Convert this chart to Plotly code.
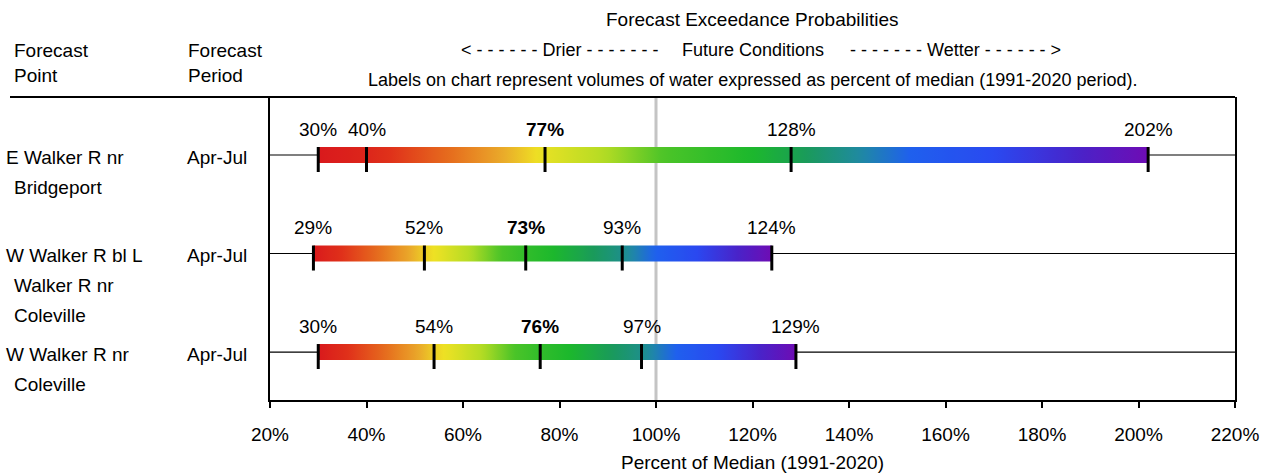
import plotly.graph_objects as go

# Forecast points (multi-line names) and periods
point_names = [
    ["E Walker R nr", "Bridgeport"],
    ["W Walker R bl L", "Walker R nr", "Coleville"],
    ["W Walker R nr", "Coleville"],
]
periods = ["Apr-Jul", "Apr-Jul", "Apr-Jul"]

# Percent of median at each exceedance probability
exc_90 = [30, 29, 30]
exc_70 = [40, 52, 54]
exc_50 = [77, 73, 76]
exc_30 = [128, 93, 97]
exc_10 = [202, 124, 129]

x_ticks = [20, 40, 60, 80, 100, 120, 140, 160, 180, 200, 220]

# ---- styling -------------------------------------------------------------
FONT = "Liberation Sans, Arial, sans-serif"
FS = 19
X_MIN, X_MAX = 20, 220
rows = [3, 2, 1]
Y_RANGE = [0.513, 3.589]
BAR_HALF = 0.081

# rainbow ramp used for the bars
RAMP = [
    (0.00, "#d9191c"), (0.08, "#e0321a"), (0.18, "#e6701e"), (0.26, "#eaa82a"),
    (0.32, "#eee224"), (0.39, "#b4dc24"), (0.45, "#4cc428"), (0.54, "#1cb82c"),
    (0.60, "#1a9a5c"), (0.66, "#1f8aa0"), (0.72, "#1f60ee"), (0.82, "#2a48f0"),
    (0.92, "#4a22c8"), (1.00, "#6e0cb4"),
]
# where each exceedance value sits on the ramp, per row
RAMP_POS = [
    [0.0, 0.04, 0.33, 0.58, 1.0],
    [0.0, 0.30, 0.50, 0.64, 1.0],
    [0.0, 0.30, 0.50, 0.64, 1.0],
]


def hex_to_rgb(h):
    h = h.lstrip("#")
    return tuple(int(h[i:i + 2], 16) for i in (0, 2, 4))


def ramp_color(t):
    t = min(max(t, 0.0), 1.0)
    for (t0, c0), (t1, c1) in zip(RAMP[:-1], RAMP[1:]):
        if t <= t1:
            f = 0 if t1 == t0 else (t - t0) / (t1 - t0)
            a, b = hex_to_rgb(c0), hex_to_rgb(c1)
            r, g, bl = (round(a[k] + (b[k] - a[k]) * f) for k in range(3))
            return f"rgb({r},{g},{bl})"
    return RAMP[-1][1]


def piecewise(v, xs, ts):
    for (x0, t0), (x1, t1) in zip(zip(xs[:-1], ts[:-1]), zip(xs[1:], ts[1:])):
        if v <= x1:
            return t0 + (t1 - t0) * (v - x0) / (x1 - x0)
    return ts[-1]


fig = go.Figure()
shapes = []
annotations = []

# 100% reference line
shapes.append(dict(type="line", xref="x", yref="paper", x0=100, x1=100, y0=0, y1=1,
                   line=dict(color="#c4c4c4", width=3), layer="below"))

for i, r in enumerate(rows):
    vals = [exc_90[i], exc_70[i], exc_50[i], exc_30[i], exc_10[i]]
    lo, hi = vals[0], vals[-1]

    # thin whisker across the whole axis
    fig.add_trace(go.Scatter(x=[X_MIN, X_MAX], y=[r, r], mode="lines",
                             line=dict(color="black", width=1.2),
                             hoverinfo="skip", showlegend=False))

    # gradient bar from the 90% to the 10% exceedance value
    n = 80
    cs = []
    for k in range(n + 1):
        f = k / n
        v = lo + (hi - lo) * f
        cs.append([f, ramp_color(piecewise(v, vals, RAMP_POS[i]))])
    fig.add_trace(go.Scatter(
        x=[lo, hi, hi, lo, lo],
        y=[r - BAR_HALF, r - BAR_HALF, r + BAR_HALF, r + BAR_HALF, r - BAR_HALF],
        mode="none", fill="toself",
        fillgradient=dict(type="horizontal", colorscale=cs),
        hoverinfo="skip", showlegend=False))

    for j, v in enumerate(vals):
        shapes.append(dict(type="line", xref="x", yref="y", ysizemode="pixel",
                           yanchor=r, x0=v, x1=v, y0=-17, y1=8,
                           line=dict(color="black", width=3)))
        annotations.append(dict(
            x=v, y=r, xref="x", yref="y", yshift=26, showarrow=False,
            text=f"<b>{v}%</b>" if j == 2 else f"{v}%",
            font=dict(family=FONT, size=FS, color="black")))

    # row labels on the left
    for k, line in enumerate(point_names[i]):
        annotations.append(dict(
            x=(4 - 270) / 965 if k == 0 else (12 - 270) / 965, xanchor="left",
            y=r, yref="y", xref="paper", yshift=-2 - 30 * k, showarrow=False,
            text=line, font=dict(family=FONT, size=FS, color="black")))
    annotations.append(dict(
        x=(185 - 270) / 965, xanchor="left", xref="paper", y=r, yref="y",
        yshift=-2, showarrow=False, text=periods[i],
        font=dict(family=FONT, size=FS, color="black")))


def px_x(px):
    return (px - 270) / 965


def px_y(py):
    return (400 - py) / 303


header = [
    ("Forecast", 12, 50, "left", FS), ("Point", 12, 76, "left", FS),
    ("Forecast", 186, 50, "left", FS), ("Period", 186, 76, "left", FS),
    ("Forecast Exceedance Probabilities", 752, 20, "center", FS),
    ("< - - - - - - Drier - - - - - - -", 559, 50, "center", 18),
    ("Future Conditions", 753, 50, "center", 18),
    ("- - - - - - - Wetter - - - - - - >", 955, 50, "center", 18),
    ("Labels on chart represent volumes of water expressed as percent of median (1991-2020 period).",
     752, 80, "center", 18),
]
for txt, hx, hy, anchor, size in header:
    annotations.append(dict(x=px_x(hx), y=px_y(hy), xref="paper", yref="paper",
                            xanchor=anchor, yanchor="middle", showarrow=False,
                            text=txt.replace("<", "&lt;").replace(">", "&gt;"),
                            font=dict(family=FONT, size=size, color="black")))

# header rule across the top
shapes.append(dict(type="line", xref="paper", yref="paper", x0=px_x(10), x1=1,
                   y0=1, y1=1, line=dict(color="black", width=2)))

fig.update_layout(
    width=1270, height=475,
    margin=dict(l=270, r=35, t=97, b=75),
    paper_bgcolor="white", plot_bgcolor="white",
    showlegend=False,
    shapes=shapes, annotations=annotations,
    font=dict(family=FONT, size=FS, color="black"),
    xaxis=dict(range=[X_MIN, X_MAX], tickvals=x_ticks,
               ticktext=[f"{t}%" for t in x_ticks],
               showgrid=False, zeroline=False, showline=True,
               linecolor="black", linewidth=1.5, ticks="outside",
               ticklen=6, tickwidth=1.5, tickcolor="black",
               ticklabelstandoff=10, automargin=False,
               tickfont=dict(family=FONT, size=FS),
               title=dict(text="Percent of Median (1991-2020)",
                          font=dict(family=FONT, size=FS), standoff=12)),
    yaxis=dict(range=Y_RANGE, showgrid=False, zeroline=False, showticklabels=False,
               showline=True, mirror=True, linecolor="black", linewidth=2,
               automargin=False),
)

fig.write_html("out.html")
